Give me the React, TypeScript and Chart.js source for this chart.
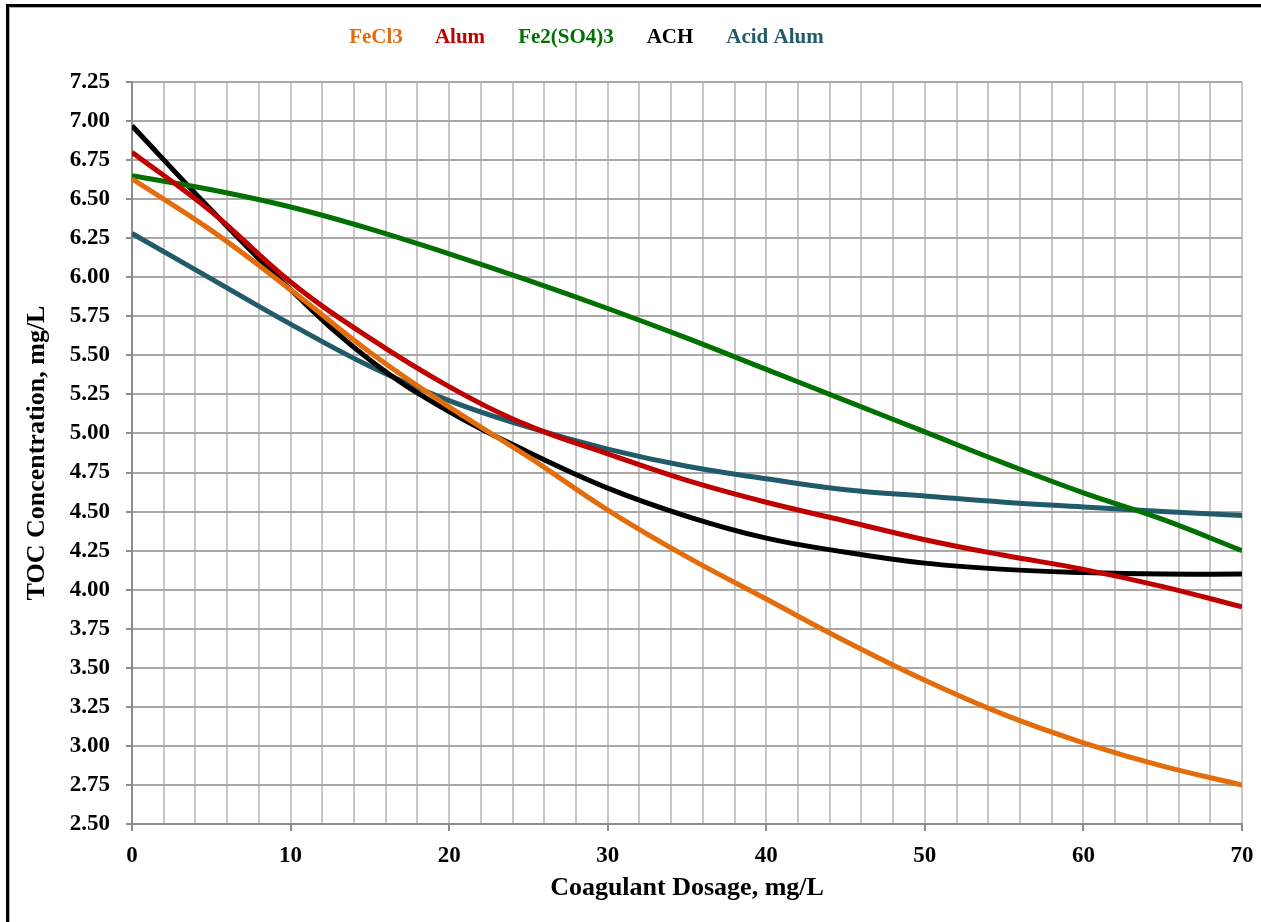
import React, { useEffect, useRef } from "react";
import { Chart, registerables } from "chart.js";

Chart.register(...registerables);

const dosage = [0, 5, 10, 15, 20, 25, 30, 35, 40, 45, 50, 55, 60, 65, 70];
const fecl3 = [6.63, 6.30, 5.92, 5.52, 5.17, 4.85, 4.51, 4.21, 3.94, 3.67, 3.42, 3.20, 3.02, 2.87, 2.75];
const alum = [6.80, 6.42, 5.97, 5.61, 5.30, 5.05, 4.87, 4.70, 4.56, 4.44, 4.32, 4.22, 4.13, 4.02, 3.89];
const fe2so43 = [6.65, 6.56, 6.45, 6.31, 6.15, 5.98, 5.80, 5.61, 5.41, 5.21, 5.01, 4.81, 4.62, 4.45, 4.25];
const ach = [6.97, 6.43, 5.92, 5.47, 5.14, 4.88, 4.65, 4.47, 4.33, 4.24, 4.17, 4.13, 4.11, 4.10, 4.10];
const acidAlum = [6.28, 5.99, 5.70, 5.43, 5.21, 5.04, 4.90, 4.79, 4.71, 4.64, 4.60, 4.56, 4.53, 4.50, 4.475];

const seriesNames = ["FeCl3", "Alum", "Fe2(SO4)3", "ACH", "Acid Alum"];
const seriesColors = ["#E46C0A", "#C00000", "#007000", "#000000", "#215A69"];
const seriesValues = [fecl3, alum, fe2so43, ach, acidAlum];
const legendCenters = [376, 460, 566, 670, 775];

const FONT = "'Liberation Serif', 'Times New Roman', serif";

export default function App() {
  const ref = useRef<HTMLCanvasElement | null>(null);

  useEffect(() => {
    document.body.style.margin = "0";
    const canvas = ref.current;
    if (!canvas) return;

    const legendPlugin = {
      id: "customLegend",
      afterDraw(chart: any) {
        const ctx = chart.ctx;
        ctx.save();
        ctx.font = `bold 21px ${FONT}`;
        ctx.textAlign = "center";
        ctx.textBaseline = "middle";
        seriesNames.forEach((n, i) => {
          ctx.fillStyle = seriesColors[i];
          ctx.fillText(n, legendCenters[i], 38);
        });
        ctx.restore();
      },
    };

    const chart = new Chart(canvas, {
      type: "line",
      data: {
        datasets: seriesNames.map((name, i) => ({
          label: name,
          data: dosage.map((x, j) => ({ x, y: seriesValues[i][j] })),
          borderColor: seriesColors[i],
          backgroundColor: seriesColors[i],
          borderWidth: 5,
          pointRadius: 0,
          tension: 0.4,
          fill: false,
        })),
      },
      options: {
        animation: false,
        responsive: false,
        maintainAspectRatio: false,
        layout: { padding: { top: 82, right: 19, left: 0, bottom: 0 } },
        plugins: {
          legend: { display: false },
          tooltip: { enabled: false },
        },
        scales: {
          x: {
            type: "linear",
            min: 0,
            max: 70,
            afterFit: (s: any) => {
              s.height = 98;
              s.paddingLeft = 0;
              s.paddingRight = 0;
            },
            ticks: {
              stepSize: 2,
              autoSkip: false,
              maxRotation: 0,
              padding: 11,
              color: "#000",
              font: { family: FONT, size: 23, weight: "bold" },
              callback: (v: any) => (Number(v) % 10 === 0 ? String(v) : ""),
            },
            grid: {
              color: "#c6c6c6",
              lineWidth: 2,
              tickLength: 7,
              tickColor: (c: any) =>
                c.tick && Number(c.tick.value) % 10 === 0 ? "#8c8c8c" : "rgba(0,0,0,0)",
            },
            border: { color: "#8c8c8c", width: 2 },
            title: {
              display: true,
              text: "Coagulant Dosage, mg/L",
              color: "#000",
              font: { family: FONT, size: 26, weight: "bold" },
              padding: { top: 0, bottom: 18 },
            },
          },
          y: {
            min: 2.5,
            max: 7.25,
            afterFit: (s: any) => {
              s.width = 132;
              s.paddingTop = 0;
              s.paddingBottom = 0;
            },
            ticks: {
              stepSize: 0.25,
              autoSkip: false,
              padding: 16,
              color: "#000",
              font: { family: FONT, size: 23, weight: "bold" },
              callback: (v: any) => Number(v).toFixed(2),
            },
            grid: {
              color: "#a8a8a8",
              lineWidth: 2,
              tickLength: 6,
              tickColor: "#8c8c8c",
            },
            border: { color: "#8c8c8c", width: 2 },
            title: {
              display: true,
              text: "TOC Concentration, mg/L",
              color: "#000",
              font: { family: FONT, size: 26, weight: "bold" },
              padding: { top: 22, bottom: 0 },
            },
          },
        },
      },
      plugins: [legendPlugin],
    });

    return () => chart.destroy();
  }, []);

  return (
    <div style={{ position: "relative", width: 1261, height: 922, overflow: "hidden", background: "#fff" }}>
      <div
        style={{
          position: "absolute",
          left: 6,
          top: 4,
          width: 1400,
          height: 1100,
          borderLeft: "3px solid #000",
          borderTop: "3px solid #000",
        }}
      >
        <div
          style={{
            position: "absolute",
            left: 0,
            top: 0,
            width: 1400,
            height: 1100,
            borderLeft: "1px solid #b0b0b0",
            borderTop: "1px solid #b0b0b0",
          }}
        />
      </div>
      <canvas ref={ref} width={1261} height={922} style={{ position: "absolute", left: 0, top: 0 }} />
    </div>
  );
}
